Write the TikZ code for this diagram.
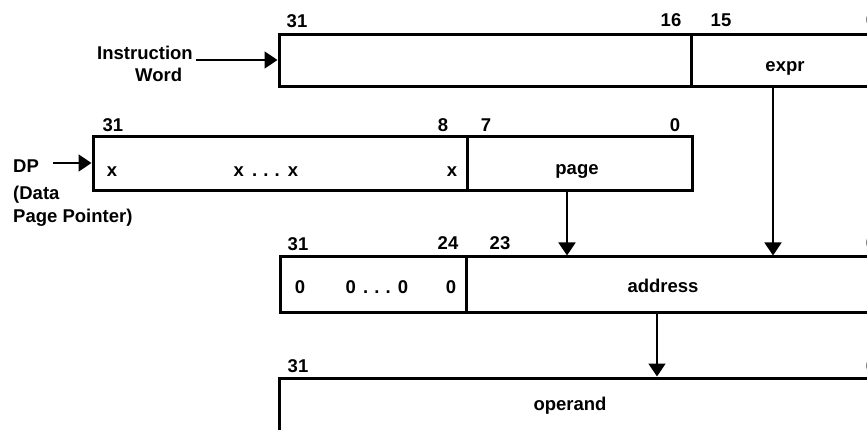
\documentclass[tikz,border=0pt]{standalone}
\usepackage{fontspec}
\setmainfont{Liberation Sans}
\usetikzlibrary{arrows.meta}
\begin{document}
\begin{tikzpicture}[x=1pt,y=-1pt,
  field/.style={draw,line width=3pt,inner sep=0pt,minimum height=#1},
  field/.default=53pt,
  lbl/.style={anchor=base,inner sep=0pt,font=\fontsize{18.5}{22}\selectfont\bfseries},
  lblw/.style={anchor=base west,inner sep=0pt,font=\fontsize{18.5}{22}\selectfont\bfseries},
  arr/.style={line width=1.6pt,-{Triangle[length=13pt,width=17pt]}}]
\useasboundingbox (0,0) rectangle (867,430);
\clip (0,0) rectangle (867,430);
% Instruction word
\node[field=52pt,minimum width=412pt] (iw1) at (485,61) {};
\node[field=52pt,minimum width=189pt] (expr) at (785.5,61) {};
\node[lbl] (b31a) at (297,28) {31};
\node[lbl] (b16) at (671,27) {16};
\node[lbl] (b15) at (721,27) {15};
\node[lbl] (b0a) at (871,27) {0};
\node[lbl] (exprt) at (785,72) {expr};
\node[lblw] (instr) at (97,60) {Instruction};
\node[lblw] (word) at (135,82) {Word};
% DP register
\node[field=54pt,minimum width=374pt] (dp1) at (280,164) {};
\node[field=54pt,minimum width=225pt] (page) at (579.5,164) {};
\node[lbl] (b31b) at (113,132) {31};
\node[lbl] (b8) at (443,132) {8};
\node[lbl] (b7) at (486,132) {7};
\node[lbl] (b0b) at (675,132) {0};
\node[lbl] (x1) at (112,177) {x};
\node[lbl] (x2) at (266,177) {x\kern3pt\ .\kern1pt\ .\kern1pt\ .\kern3pt\ x};
\node[lbl] (x3) at (452,177) {x};
\node[lbl] (paget) at (577,175) {page};
\node[lblw] (dp) at (13,173) {DP};
\node[lblw] (data) at (13,200) {(Data};
\node[lblw] (ptr) at (13,223) {Page Pointer)};
% Address
\node[field=55pt,minimum width=186pt] (ad1) at (373,284.5) {};
\node[field=55pt,minimum width=414pt] (ad2) at (673,284.5) {};
\node[lbl] (b31c) at (298,251) {31};
\node[lbl] (b24) at (448,250) {24};
\node[lbl] (b23) at (500,250) {23};
\node[lbl] (b0c) at (871,250) {0};
\node[lbl] (z1) at (300,294) {0};
\node[lbl] (z2) at (377,294) {0\kern2pt\ .\kern1pt\ .\kern1pt\ .\kern2pt\ 0};
\node[lbl] (z3) at (451,294) {0};
\node[lbl] (addrt) at (663,292) {address};
% Operand
\node[field=53pt,minimum width=601pt] (op) at (579.5,404.5) {};
\node[lbl] (b31d) at (298,372) {31};
\node[lbl] (b0d) at (871,372) {0};
\node[lbl] (opt) at (570,410) {operand};
% Arrows
\draw[arr,shorten <=3pt] (instr.base east) -- (instr.base east -| iw1.west);
\draw[arr,shorten <=14pt] ([yshift=10pt]dp.base east) -- ([yshift=10pt]dp.base east -| dp1.west);
\draw[arr] ([xshift=-12.5pt]page.south) -- ([xshift=-12.5pt]page.south |- ad2.north);
\draw[arr] ([xshift=-12.5pt]expr.south) -- ([xshift=-12.5pt]expr.south |- ad2.north);
\draw[arr] ([xshift=-16pt]ad2.south) -- ([xshift=-16pt]ad2.south |- op.north);
\end{tikzpicture}
\end{document}
